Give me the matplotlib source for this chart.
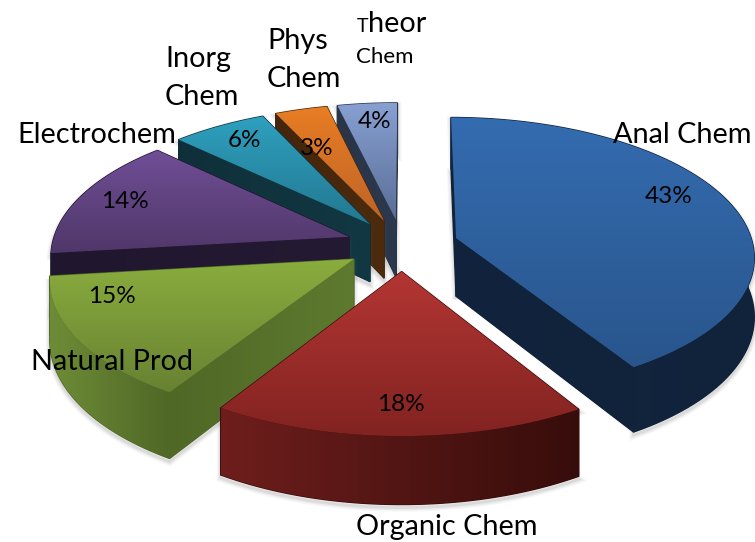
#!/usr/bin/env python3
# -*- coding: utf-8 -*-

import numpy as np
import matplotlib
matplotlib.use('Agg')
import matplotlib.pyplot as plt
from matplotlib.patches import Polygon

plt.rcParams['font.family'] = ['Lato', 'DejaVu Sans']

# shares (the printed labels do not add up to 100)
names = ['Anal Chem', 'Organic Chem', 'Natural Prod', 'Electrochem',
         'Inorg Chem', 'Phys Chem', 'Theor Chem']
shares = [41.25, 17.6, 14.2, 14.1, 5.9, 3.25, 3.7]
pct_labels = ['43%', '18%', '15%', '14%', '6%', '3%', '4%']

top_light = ['#346cb0', '#b33633', '#8aad3e', '#704e96', '#2ea0be', '#e87d23', '#87a0d2']
top_dark = ['#29558c', '#822321', '#688232', '#503769', '#237891', '#be6428', '#5a6e96']
wall_light = ['#14263f', '#6e1e1c', '#6e8c37', '#2a1e38', '#153f4c', '#55300f', '#2f3c52']
wall_dark = ['#11233b', '#370d0b', '#4f6826', '#20162e', '#0f303a', '#44260c', '#2a3548']

# pie geometry in image pixels
cx, cy = 402.0, 245.0
radius = 297.0
squash = 137.0
persp = 0.123
explode = 0.19
depth = 58.5
start = 0.2


def project(u, v):
    s = 1.0 / (1.0 + persp * v)
    return cx + radius * u * s, cy - squash * v * s, depth * s


def blend(c1, c2, t):
    a = np.array(matplotlib.colors.to_rgb(c1))
    b = np.array(matplotlib.colors.to_rgb(c2))
    return a + (b - a) * t


fig = plt.figure(figsize=(7.55, 5.42), dpi=100)
ax = fig.add_axes([0, 0, 1, 1])
ax.axis('off')

edges = np.cumsum([0.0] + shares) / np.sum(shares) * 360.0 + start
z = 1


def fill_gradient(x, y, c_first, c_last, vertical):
    # polygon filled with a linear gradient, drawn as a clipped image
    global z
    t = np.linspace(0, 1, 128)
    g = np.array([blend(c_first, c_last, q) for q in t])
    g = g[:, None, :] if vertical else g[None, :, :]
    ext = [x.min(), max(x.max(), x.min() + 1), max(y.max(), y.min() + 1), y.min()]
    im = ax.imshow(g, extent=ext, aspect='auto', interpolation='bilinear', zorder=z)
    clip = Polygon(np.c_[x, y], closed=True, transform=ax.transData, fc='none', ec='none')
    ax.add_patch(clip)
    im.set_clip_path(clip)
    z += 1


for i in [6, 5, 4, 3, 2, 0, 1]:
    a0, a1 = np.radians(edges[i]), np.radians(edges[i + 1])
    mid = 0.5 * (a0 + a1)
    du, dv = explode * np.sin(mid), explode * np.cos(mid)
    ang = np.linspace(a0, a1, 80)

    tx, ty, th = project(du, dv)
    arc_x, arc_y, arc_h = project(du + np.sin(ang), dv + np.cos(ang))
    px = np.r_[tx, arc_x]
    py = np.r_[ty, arc_y]
    ph = np.r_[th, arc_h]

    # soft shadow round the whole solid
    sil_x = np.r_[px, px[::-1]]
    sil_y = np.r_[py, (py + ph)[::-1]]
    for lw, al in zip([6, 4, 2], [0.05, 0.07, 0.1]):
        ax.add_patch(Polygon(np.c_[sil_x, sil_y + 3], closed=True, fc='none',
                             ec='#555555', lw=lw, alpha=al, zorder=z))
    z += 1

    frac = np.linspace(0, 1, 2)
    walls = []
    for k in [0, -1]:
        walls.append((tx + (arc_x[k] - tx) * frac, ty + (arc_y[k] - ty) * frac,
                      th + (arc_h[k] - th) * frac, 'radial'))
    walls.append((arc_x, arc_y, arc_h, 'arc'))
    # back walls first
    walls.sort(key=lambda w: np.mean(w[1]))
    for wx, wy, wh, kind in walls:
        poly_x = np.r_[wx, wx[::-1]]
        poly_y = np.r_[wy, (wy + wh)[::-1]]
        # solid underlay so no pale seam shows where two walls meet
        ax.fill(poly_x, poly_y, color=wall_dark[i], lw=1.0, zorder=z)
        z += 1
        mid_col = matplotlib.colors.to_hex(blend(wall_dark[i], wall_light[i], 0.5))
        if kind == 'radial' and wx[0] > wx[-1]:
            c_left, c_right = wall_dark[i], mid_col
        elif kind == 'radial':
            c_left, c_right = mid_col, wall_dark[i]
        else:
            c_left, c_right = wall_light[i], wall_dark[i]
        fill_gradient(poly_x, poly_y, c_left, c_right, False)

    fill_gradient(px, py, top_light[i], top_dark[i], True)

ax.set_xlim(0, 755)
ax.set_ylim(542, 0)

big = 20.8
small = 16.0
pct = 17.5
tz = z + 1

ax.text(613, 143, names[0], fontsize=big, zorder=tz)
ax.text(356, 535, names[1], fontsize=big, zorder=tz)
ax.text(31, 370, names[2], fontsize=big, zorder=tz)
ax.text(17, 143, names[3], fontsize=big, zorder=tz)
ax.text(165, 67, names[4].split()[0], fontsize=big, zorder=tz)
ax.text(165, 105, names[4].split()[1], fontsize=big, zorder=tz)
ax.text(267, 49, names[5].split()[0], fontsize=big, zorder=tz)
ax.text(267, 87, names[5].split()[1], fontsize=big, zorder=tz)
ax.text(357, 32, names[6][0], fontsize=small - 2, zorder=tz)
ax.text(368, 32, names[6].split()[0][1:], fontsize=big, zorder=tz)
ax.text(356, 63, names[6].split()[1], fontsize=small, zorder=tz)

pct_x = [645, 377, 88, 101, 228, 300, 358]
pct_y = [203, 411, 303, 208, 147, 155, 128]
for i in range(len(pct_labels)):
    ax.text(pct_x[i], pct_y[i], pct_labels[i], fontsize=pct, zorder=tz)

fig.savefig('out.png', dpi=100)
